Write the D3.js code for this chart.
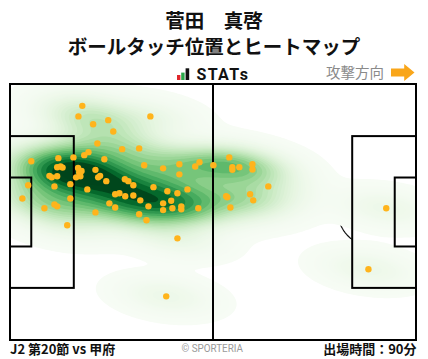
<!DOCTYPE html>
<html><head><meta charset="utf-8">
<script src="https://cdn.jsdelivr.net/npm/d3@7"></script>
<style>
html,body{margin:0;padding:0;background:#fff;}
svg{display:block;font-family:"Noto Sans CJK JP","Noto Sans",sans-serif;}
</style></head><body>
<svg id="chart" width="428" height="359"></svg>
<script>
// ---------- data ----------
const titleLines = ["菅田　真啓", "ボールタッチ位置とヒートマップ"];
const brandLabel = "STATs";
const directionLabel = "攻撃方向";
const matchLabel = "J2 第20節 vs 甲府";
const creditLabel = "© SPORTERIA";
const minutesLabel = "出場時間：90分";
const pitchLength = 105, pitchWidth = 68;
// ball touch positions (metres from own goal line / from top touchline)
const touchX = [18.7,17.7,36.3,21.5,25.4,26.7,22.6,20.3,19.2,29.0,33.4,5.5,12.5,16.4,24.4,12.2,13.1,13.6,17.6,18.5,
  17.9,10.2,10.8,12.2,17.1,18.2,22.1,23.3,22.8,24.9,29.7,30.6,31.9,34.7,39.6,43.8,43.8,47.9,49.0,52.6,
  4.7,11.5,15.6,20.0,37.1,40.7,43.3,45.9,27.2,28.3,29.8,31.9,3.2,15.6,33.7,25.7,27.2,35.8,39.6,41.7,
  44.3,44.3,42.0,39.6,48.7,8.9,11.5,12.2,22.1,33.4,35.3,14.8,43.3,40.4,56.7,57.5,57.5,59.3,62.7,62.7,
  66.8,55.9,56.2,62.1,62.9,57.0,97.3,92.7];
const touchY = [5.8,8.6,8.6,10.7,9.6,12.6,15.8,18.1,18.9,17.3,17.1,20.5,19.7,19.5,20.0,22.1,21.9,22.2,22.3,23.1,
  23.5,24.4,24.8,24.5,24.8,24.5,22.8,24.4,24.8,25.8,25.3,25.8,26.9,21.6,22.4,21.3,24.0,21.9,20.8,21.6,
  26.9,27.2,26.6,28.0,27.4,28.5,29.0,28.0,29.3,29.0,29.8,29.6,30.4,30.4,30.9,31.7,32.8,32.5,31.7,31.0,
  32.5,33.3,33.0,33.5,33.0,33.0,32.0,32.5,34.1,34.6,36.2,37.5,41.0,56.4,19.5,22.1,22.8,22.1,21.3,22.7,
  27.2,29.8,30.1,29.3,30.9,32.8,33.0,49.2];
const kdeLevels = 50, bwAdjust = 0.85, floorRatio = 18;

// ---------- setup ----------
const svg = d3.select("#chart");
const x = d3.scaleLinear().domain([0, pitchLength]).range([10, 416]);
const y = d3.scaleLinear().domain([0, pitchWidth]).range([84, 340]);

// header
svg.append("text").attr("x", 214).attr("y", 28).attr("text-anchor", "middle")
  .attr("font-size", 19.5).attr("font-weight", 700).attr("fill", "#111").text(titleLines[0]);
svg.append("text").attr("x", 214).attr("y", 53.5).attr("text-anchor", "middle")
  .attr("font-size", 19.5).attr("font-weight", 700).attr("fill", "#111").text(titleLines[1]);

// brand logo
const logo = svg.append("g");
logo.append("rect").attr("x", 177).attr("y", 75).attr("width", 3.4).attr("height", 5).attr("fill", "#e0262b");
logo.append("rect").attr("x", 181.2).attr("y", 72.6).attr("width", 3.4).attr("height", 7.4).attr("fill", "#2aa84a");
logo.append("rect").attr("x", 185.6).attr("y", 68.3).attr("width", 3.6).attr("height", 11.7).attr("fill", "#111");
logo.append("text").attr("x", 196.5).attr("y", 79.8).attr("font-family", "Roboto, sans-serif")
  .attr("font-size", 16).attr("font-weight", 700).attr("fill", "#111")
  .attr("textLength", 51.5).attr("lengthAdjust", "spacing").text(brandLabel);

// attack direction
svg.append("text").attr("x", 326).attr("y", 77.6).attr("font-size", 14.5).attr("fill", "#8a8a8a").text(directionLabel);
svg.append("path").attr("d", "M391,68.4 H404.2 V64 L414.5,72.5 L404.2,81 V76.6 H391 Z").attr("fill", "#f9a61a");

// ---------- pitch ----------
const pitch = svg.append("g");
const clipId = "pitchClip";
svg.append("defs").append("clipPath").attr("id", clipId).append("rect")
  .attr("x", x(0)).attr("y", y(0)).attr("width", x(pitchLength) - x(0)).attr("height", y(pitchWidth) - y(0));

// penalty arcs (underneath heat map)
const arcR = 9.15, spot = 11, boxD = 16.5;
function arcPath(side) {
  const cx = side === 0 ? spot : pitchLength - spot;
  const edge = side === 0 ? boxD : pitchLength - boxD;
  const dx = Math.abs(edge - cx);
  const a = Math.acos(dx / arcR);
  const pts = d3.range(-a, a + 1e-9, a / 30).map(t => {
    const px = side === 0 ? cx + arcR * Math.cos(t) : cx - arcR * Math.cos(t);
    return [x(px), y(pitchWidth / 2 + arcR * Math.sin(t))];
  });
  return d3.line()(pts);
}
pitch.append("path").attr("d", arcPath(0)).attr("fill", "none").attr("stroke", "#111").attr("stroke-width", 1.2);
pitch.append("path").attr("d", arcPath(1)).attr("fill", "none").attr("stroke", "#111").attr("stroke-width", 1.2);

// ---------- KDE heat map ----------
const px = touchX.map(x), py = touchY.map(y);
const n = px.length;
const mx = d3.mean(px), my = d3.mean(py);
let sxx = 0, syy = 0, sxy = 0;
for (let i = 0; i < n; i++) {
  sxx += (px[i] - mx) ** 2; syy += (py[i] - my) ** 2; sxy += (px[i] - mx) * (py[i] - my);
}
sxx /= n - 1; syy /= n - 1; sxy /= n - 1;
const fac = Math.pow(n, -1 / 6) * bwAdjust;
const cxx = sxx * fac * fac, cyy = syy * fac * fac, cxy = sxy * fac * fac;
const det = cxx * cyy - cxy * cxy;
const ixx = cyy / det, iyy = cxx / det, ixy = -cxy / det;
const step = 2, gx0 = -40, gy0 = 40, gw = 250, gh = 160;
const values = new Float64Array(gw * gh);
for (let j = 0; j < gh; j++) {
  const gy = gy0 + j * step;
  for (let i = 0; i < gw; i++) {
    const gx = gx0 + i * step;
    let s = 0;
    for (let k = 0; k < n; k++) {
      const dx = gx - px[k], dy = gy - py[k];
      s += Math.exp(-0.5 * (ixx * dx * dx + 2 * ixy * dx * dy + iyy * dy * dy));
    }
    values[j * gw + i] = s;
  }
}
const vmax = d3.max(values);
const lmin = 1 / floorRatio;   // fraction of one touch's peak density
const levels = d3.range(kdeLevels).map(i => lmin * Math.pow(vmax / lmin, i / (kdeLevels - 1)));
const color = d3.scaleSequential(d3.interpolateGreens).domain([lmin, vmax * 0.85]).clamp(true);
const contours = d3.contours().size([gw, gh]).thresholds(levels.slice(0, -1))(values);
const proj = d3.geoTransform({
  point: function (cx, cy) { this.stream.point(gx0 + (cx - 0.5) * step, gy0 + (cy - 0.5) * step); }
});
const heat = svg.append("g").attr("clip-path", `url(#${clipId})`);
heat.selectAll("path").data(contours).join("path")
  .attr("d", d3.geoPath(proj))
  .attr("fill", (d, i) => color((levels[i] + levels[i + 1]) / 2))
  .attr("stroke", "none");

// ---------- pitch lines ----------
const lines = svg.append("g").attr("fill", "none").attr("stroke", "#000").attr("stroke-width", 2);
lines.append("rect").attr("x", x(0)).attr("y", y(0)).attr("width", x(pitchLength) - x(0)).attr("height", y(pitchWidth) - y(0));
lines.append("line").attr("x1", x(pitchLength / 2)).attr("x2", x(pitchLength / 2)).attr("y1", y(0)).attr("y2", y(pitchWidth));
const boxW = 40.32, gaD = 5.5, gaW = 18.32;
[[0, boxD, boxW], [0, gaD, gaW], [pitchLength - boxD, pitchLength, boxW], [pitchLength - gaD, pitchLength, gaW]]
  .forEach(([a, b, w]) => {
    lines.append("rect").attr("x", x(a)).attr("y", y(pitchWidth / 2 - w / 2))
      .attr("width", x(b) - x(a)).attr("height", y(pitchWidth / 2 + w / 2) - y(pitchWidth / 2 - w / 2));
  });

// ---------- touches ----------
svg.append("g").selectAll("circle").data(d3.range(n)).join("circle")
  .attr("cx", i => x(touchX[i])).attr("cy", i => y(touchY[i])).attr("r", 3.2)
  .attr("fill", "#ffb41c");

// ---------- footer ----------
svg.append("text").attr("x", 10).attr("y", 353.5).attr("font-size", 13).attr("font-weight", 700)
  .attr("fill", "#111").text(matchLabel);
svg.append("text").attr("x", 181.5).attr("y", 351.8).attr("font-family", "Roboto, sans-serif")
  .attr("font-size", 10.8).attr("fill", "#9a9a9a").attr("textLength", 61.5).attr("lengthAdjust", "spacingAndGlyphs")
  .text(creditLabel);
svg.append("text").attr("x", 416.5).attr("y", 353.5).attr("text-anchor", "end").attr("font-size", 13)
  .attr("font-weight", 700).attr("fill", "#111").text(minutesLabel);
</script>
</body></html>
